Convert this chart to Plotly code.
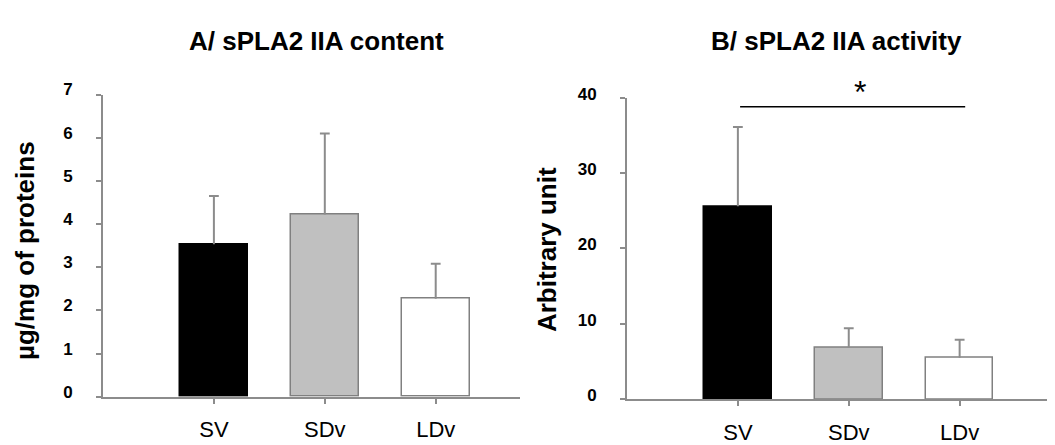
import plotly.graph_objects as go

categories = ["SV", "SDv", "LDv"]
content_mean = [3.53, 4.22, 2.27]
content_err = [1.12, 1.88, 0.81]
activity_mean = [25.6, 6.9, 5.5]
activity_err = [10.5, 2.5, 2.4]
bar_colors = ["#000000", "#c0c0c0", "#ffffff"]
bar_lines = ["#000000", "#808080", "#808080"]

# the page body has an 8px margin; the figure is sized to end at the window edge
OFF = 8
W, H = 1055 - OFF, 445 - OFF
AX = "#8c8c8c"
FONT = "Liberation Sans, Arial, sans-serif"


def px(x):
    return (x - OFF) / W


def py(y):
    return 1 - (y - OFF) / H


fig = go.Figure()
for mean, err, xa, ya in [(content_mean, content_err, "x", "y"),
                          (activity_mean, activity_err, "x2", "y2")]:
    fig.add_trace(go.Bar(
        x=[0, 1, 2], y=mean, width=0.61,
        marker=dict(color=bar_colors, line=dict(color=bar_lines, width=1.5)),
        error_y=dict(type="data", array=err, arrayminus=[0, 0, 0], symmetric=False,
                     color=AX, thickness=2, width=0),
        xaxis=xa, yaxis=ya, showlegend=False))
    # caps on the top ends of the error bars only
    fig.add_trace(go.Scatter(
        x=[0, 1, 2], y=[m + e for m, e in zip(mean, err)], mode="markers",
        marker=dict(symbol="line-ew", size=7, line=dict(color=AX, width=2)),
        xaxis=xa, yaxis=ya, showlegend=False, hoverinfo="skip"))

xcommon = dict(showgrid=False, zeroline=False, showline=True, linecolor=AX, linewidth=2,
               ticks="outside", ticklen=5, tickcolor=AX, tickwidth=1.5,
               tickmode="array", tickvals=[0, 1, 2], ticktext=categories,
               tickfont=dict(family=FONT, size=22, color="#000"), ticklabelstandoff=7)
ycommon = dict(showgrid=False, zeroline=False, showline=True, linecolor=AX, linewidth=2,
               ticks="outside", ticklen=5, tickcolor=AX, tickwidth=1.5,
               tickfont=dict(family=FONT, size=17, color="#000", weight="bold"),
               ticklabelstandoff=20)

fig.update_layout(
    width=W, height=H, margin=dict(l=0, r=0, t=0, b=0),
    plot_bgcolor="white", paper_bgcolor="white", bargap=0,
    xaxis=dict(xcommon, domain=[px(103), px(520)], range=[-1, 2.76], anchor="y"),
    yaxis=dict(ycommon, domain=[py(400.7), py(84)], range=[0, 7], dtick=1, anchor="x",
               ticklabelshift=-5),
    xaxis2=dict(xcommon, domain=[px(627), 1.0], range=[-1, 2.86], anchor="y2"),
    yaxis2=dict(ycommon, domain=[py(403.3), py(87.3)], range=[0, 40], dtick=10, anchor="x2",
                ticklabelshift=-4),
)

fig.add_shape(type="line", xref="x2", yref="y2", x0=0.02, x1=2.05, y0=38.8, y1=38.8,
              line=dict(color="#000", width=1.5))
fig.add_annotation(xref="x2", yref="paper", x=1.1, y=py(81), text="*", showarrow=False,
                   yanchor="middle", font=dict(family=FONT, size=32, color="#000"))

ann = [
    ("A/ sPLA2 IIA content", px(316.5), py(28), 0, 26),
    ("B/ sPLA2 IIA activity", px(836), py(28), 0, 26),
    ("µg/mg of proteins", px(25), py(248), -90, 26),
    ("Arbitrary unit", px(547), py(247), -90, 26),
]
for text, x, y, ang, size in ann:
    fig.add_annotation(xref="paper", yref="paper", x=x, y=y, text=text, showarrow=False,
                       textangle=ang, xanchor="center", yanchor="middle",
                       font=dict(family=FONT, size=size, color="#000", weight="bold"))

fig.write_html("out.html")
